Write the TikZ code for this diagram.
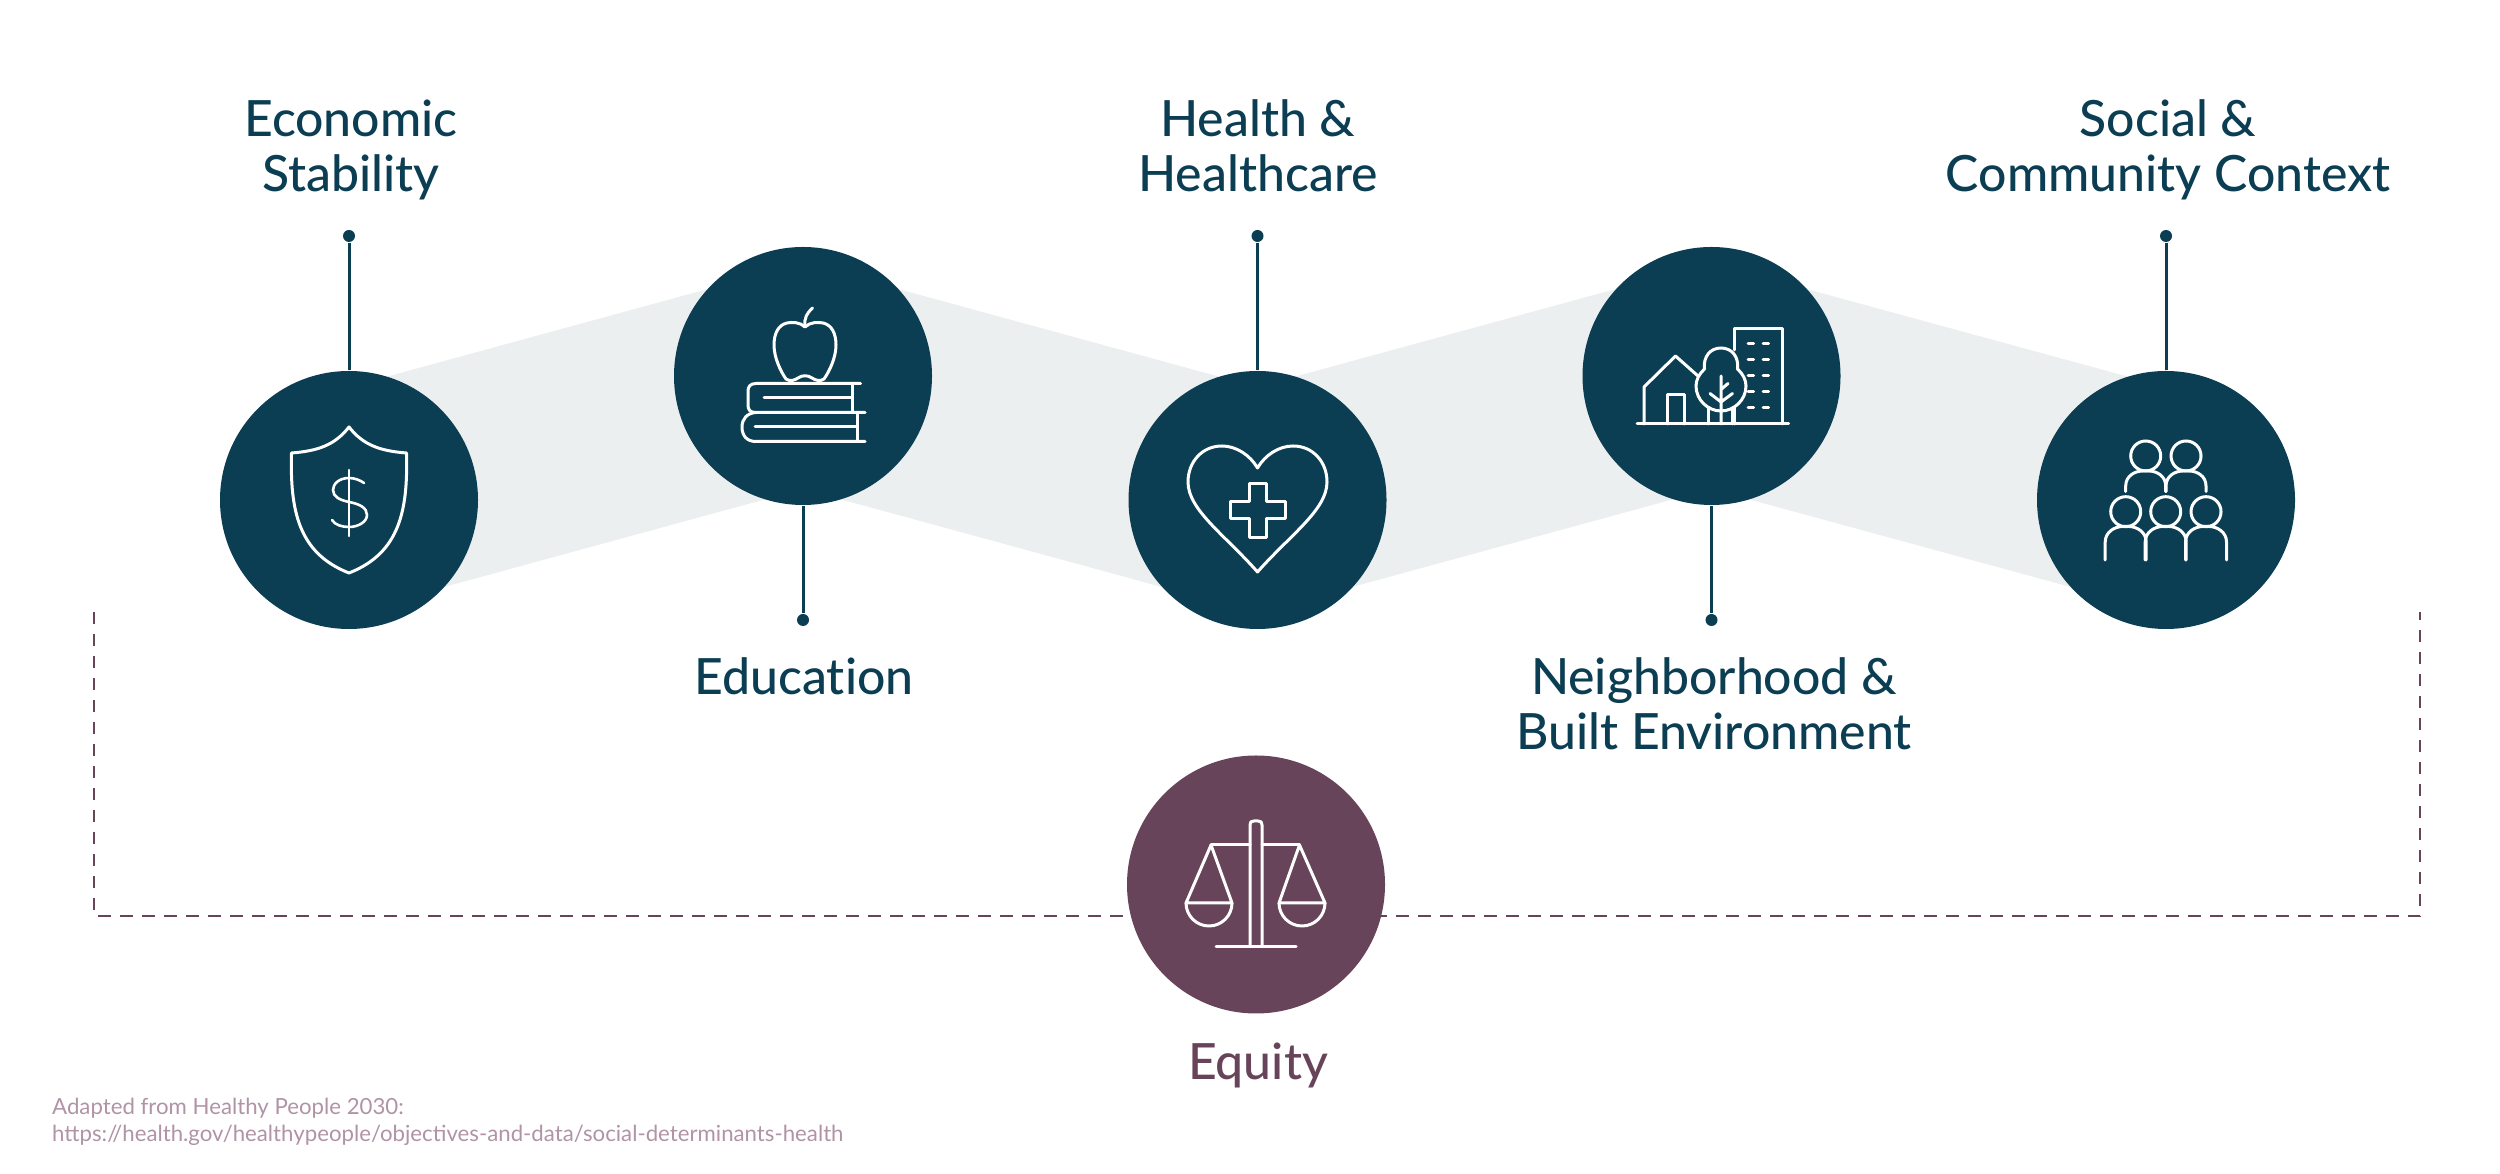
\documentclass[tikz,border=0pt]{standalone}
\usepackage{fontspec}
\setmainfont{Lato Medium}[Ligatures=NoCommon]
\newfontfamily\notefont{Lato}
\usepackage{tikz}
\usepackage{xcolor}
\definecolor{tealdark}{HTML}{0B3D53}
\definecolor{plumdark}{HTML}{674459}
\definecolor{bandgray}{HTML}{ECEFF0}
\definecolor{notepink}{HTML}{B093A5}
\tikzset{
  topic/.style={circle, fill=tealdark, minimum size=258\pxu, inner sep=0pt},
  pin/.style={circle, fill=tealdark, minimum size=12\pxu, inner sep=0pt},
  stem/.style={tealdark, line width=3\pxu},
  heading/.style={text=tealdark, font=\fontsize{14.2}{15.65}\selectfont, align=center, inner sep=0pt, anchor=base},
  icon/.style={white, line width=3\pxu, line cap=round, line join=round},
}
\newlength{\pxu}
\setlength{\pxu}{0.01cm}
\begin{document}
\begin{tikzpicture}[x=0.01cm, y=-0.01cm]
  \useasboundingbox (0,0) rectangle (2500,1174);
  % === Band behind the circles ===
  \fill[bandgray] (349,387) -- (803,263) -- (1257,387) -- (1711,263) -- (2166,387)
    -- (2166,613) -- (1711,489) -- (1257,613) -- (803,489) -- (349,613) -- cycle;
  % === Dashed bracket ===
  \coordinate (bracketA) at (94,612);
  \coordinate (bracketB) at (94,916);
  \coordinate (bracketC) at (2420,916);
  \coordinate (bracketD) at (2420,612);
  \draw[plumdark, line width=2.8\pxu, dash pattern=on 12.5\pxu off 9.5\pxu] (bracketA) -- (bracketB) -- (bracketC) -- (bracketD);
  % === Circles ===
  \node[topic] (economy) at (349,500) {};
  \node[topic] (education) at (803,376) {};
  \node[topic] (health) at (1257.5,500) {};
  \node[topic] (neighborhood) at (1711.5,376) {};
  \node[topic] (social) at (2166,500) {};
  \node[topic, fill=plumdark] (equity) at (1256,884.5) {};
  % === Pins and stems ===
  \node[pin] (economyPin) at (349,236) {};
  \node[pin] (educationPin) at (803,620) {};
  \node[pin] (healthPin) at (1257.5,236) {};
  \node[pin] (neighborhoodPin) at (1711.5,620) {};
  \node[pin] (socialPin) at (2166,236) {};
  \draw[stem] (economyPin) -- (economy);
  \draw[stem] (educationPin) -- (education);
  \draw[stem] (healthPin) -- (health);
  \draw[stem] (neighborhoodPin) -- (neighborhood);
  \draw[stem] (socialPin) -- (social);
  % === Labels ===
  \node[heading] (economyText) at (351,192) {Economic\\Stability};
  \node[heading] (educationText) at (804,695) {Education};
  \node[heading] (healthText) at (1258,192) {Health \&\\Healthcare};
  \node[heading] (neighborhoodText) at (1714,750) {Neighborhood \&\\Built Environment};
  \node[heading] (socialText) at (2168,192) {Social \&\\Community Context};
  \node[heading, text=plumdark] (equityText) at (1258,1080) {Equity};
  \node[anchor=base west, inner sep=0pt, text=notepink, align=left, font=\notefont\fontsize{6.32}{7.6}\selectfont] (noteText) at (51.5,1141.7)
    {Adapted from Healthy People 2030:\\https://health.gov/healthypeople/objectives-and-data/social-determinants-health};
  % === Shield ===
  \draw[icon] (349,427) .. controls (335,445) and (318,451) .. (291.5,453)
    .. controls (290,510) and (298,553) .. (349,573)
    .. controls (400,553) and (408,510) .. (406.5,453)
    .. controls (380,451) and (363,445) .. (349,427) -- cycle;
  \draw[icon, line width=2.6\pxu] (349,470) -- (349,536);
  \draw[icon, line width=2.6\pxu] (364,483) .. controls (360,480) and (354,478) .. (349,478)
    .. controls (339,478) and (333,484) .. (333,490) .. controls (333,497) and (340,500) .. (349,502)
    .. controls (360,504) and (367,508) .. (367,515) .. controls (367,522) and (358,527) .. (349,527)
    .. controls (342,527) and (335,525) .. (332,520);
  % === Apple and books ===
  \draw[icon] (805,327) .. controls (800,322) and (792,322) .. (787,323)
    .. controls (778,325) and (774,334) .. (774,345) .. controls (774,358) and (781,372) .. (786,379)
    .. controls (790,382) and (795,380) .. (798,378) .. controls (802,375) and (808,375) .. (812,378)
    .. controls (815,380) and (820,382) .. (824,379) .. controls (829,372) and (836,358) .. (836,345)
    .. controls (836,334) and (832,325) .. (823,323) .. controls (818,322) and (810,322) .. (805,327) -- cycle;
  \draw[icon] (805,326) .. controls (804,318) and (807,313) .. (812.5,308);
  \draw[icon] (860.5,383.5) -- (756,383.5) .. controls (750,383.5) and (748,387) .. (748,391)
    -- (748,405) .. controls (748,410) and (750,412.5) .. (756,412.5) -- (865,412.5);
  \draw[icon] (756,412.5) .. controls (747,413) and (742,419) .. (742,427)
    .. controls (742,436) and (747,441.5) .. (756,441.5) -- (865,441.5);
  \draw[icon] (852,383.5) -- (852,412.5) (857.5,412.5) -- (857.5,441.5);
  \draw[icon] (764,398) -- (851,398) (755,427) -- (856,427);
  % === Heart and cross ===
  \draw[icon] (1257.5,468) .. controls (1250,455) and (1236,446) .. (1222,446)
    .. controls (1202,446) and (1188,462) .. (1188,482) .. controls (1188,510) and (1225,535) .. (1257.5,572)
    .. controls (1290,535) and (1327,510) .. (1327,482) .. controls (1327,462) and (1313,446) .. (1293,446)
    .. controls (1279,446) and (1265,455) .. (1257.5,468) -- cycle;
  \draw[icon] (1249,483.5) -- (1266,483.5) -- (1266,502) -- (1285,502) -- (1285,519) -- (1266,519)
    -- (1266,538) -- (1249,538) -- (1249,519) -- (1230,519) -- (1230,502) -- (1249,502) -- cycle;
  % === House, tree and block ===
  \draw[icon] (1637,424) -- (1788.5,424);
  \draw[icon] (1644,424) -- (1644,387) -- (1675.5,356) -- (1698,376);
  \draw[icon] (1667.5,424) -- (1667.5,395) -- (1684.5,395) -- (1684.5,424);
  \draw[icon] (1734.5,350) -- (1734.5,328.5) -- (1782,328.5) -- (1782,424) (1734.5,407) -- (1734.5,424);
  \draw[icon] (1721,348) .. controls (1710,348) and (1703,357) .. (1704.5,369)
    .. controls (1699,374) and (1696,380) .. (1696,386) .. controls (1696,400) and (1708,411) .. (1721,411)
    .. controls (1734,411) and (1746,400) .. (1746,386) .. controls (1746,380) and (1743,374) .. (1737.5,369)
    .. controls (1739,357) and (1732,348) .. (1721,348) -- cycle;
  \draw[icon] (1721,376) -- (1721,424) (1710,393.5) -- (1721,402) -- (1732.5,393.5) (1728,383.5) -- (1721,389.5);
  \draw[icon] (1708.5,408) -- (1708.5,424) (1732.5,408) -- (1732.5,424);
  \foreach \y in {344,360,376,392,408} {
    \draw[icon] (1748,\y) -- (1753.5,\y) (1763,\y) -- (1768.5,\y);
  }
  % === People ===
  \foreach \x in {2145.7,2186} {
    \draw[icon] (\x,456) circle (15);
    \draw[icon] (\x-20,491.5) -- (\x-20,486) .. controls (\x-20,476) and (\x-11,471) .. (\x-3,471) -- (\x+3,471)
      .. controls (\x+11,471) and (\x+20,476) .. (\x+20,486) -- (\x+20,491.5);
  }
  \foreach \x in {2125.7,2165.7,2206} {
    \draw[icon] (\x,511.7) circle (15);
    \draw[icon] (\x-20.5,560) -- (\x-20.5,542) .. controls (\x-20.5,532) and (\x-11,526.5) .. (\x-3,526.5) -- (\x+3,526.5)
      .. controls (\x+11,526.5) and (\x+20.5,532) .. (\x+20.5,542) -- (\x+20.5,560);
  }
  % === Scales ===
  \draw[icon] (1250,946.5) -- (1250,825) .. controls (1250,822) and (1251,821) .. (1254,821) -- (1258,821)
    .. controls (1261,821) and (1262,822) .. (1262,825) -- (1262,946.5);
  \draw[icon] (1216,946.5) -- (1296,946.5);
  \draw[icon] (1250,845) -- (1211,845) (1262,845) -- (1299.5,845);
  \draw[icon] (1186,903) -- (1211,845) -- (1232,903) -- cycle;
  \draw[icon] (1186,903) arc[start angle=180, end angle=0, radius=23];
  \draw[icon] (1279,903) -- (1299.5,845) -- (1325,903) -- cycle;
  \draw[icon] (1279,903) arc[start angle=180, end angle=0, radius=23];
\end{tikzpicture}
\end{document}
